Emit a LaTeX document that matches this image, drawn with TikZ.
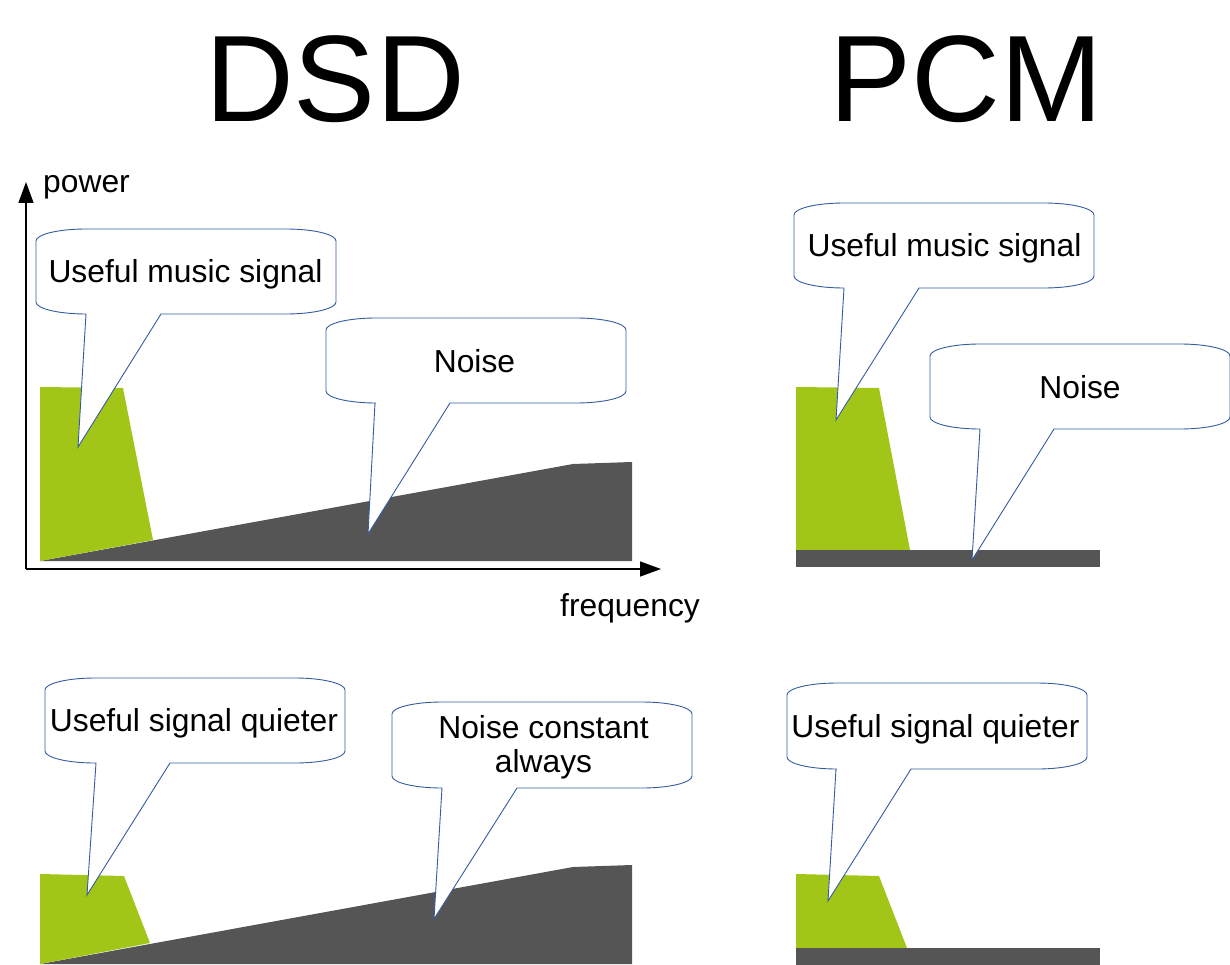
\documentclass[tikz,border=0pt]{standalone}
\usepackage{fontspec}
\setmainfont{Liberation Sans}
\usetikzlibrary{arrows.meta}
\definecolor{sigGreen}{RGB}{161,198,24}
\definecolor{noiseGray}{RGB}{85,85,85}
\definecolor{bubbleBlue}{RGB}{52,92,160}
% #1 L, #2 T, #3 R, #4 B, #5 tail base left, #6 tail base right, #7 tip x, #8 tip y
\newcommand\bubblepath[8]{%
  \filldraw[bubble]
    (#1,#2+12) .. controls (#1,#2+5.4) and (#1+22.4,#2) .. (#1+50,#2)
    -- (#3-50,#2) .. controls (#3-22.4,#2) and (#3,#2+5.4) .. (#3,#2+12)
    -- (#3,#4-12) .. controls (#3,#4-5.4) and (#3-22.4,#4) .. (#3-50,#4)
    -- (#6,#4) -- (#7,#8) -- (#5,#4)
    -- (#1+50,#4) .. controls (#1+22.4,#4) and (#1,#4-5.4) .. (#1,#4-12)
    -- cycle;}
\begin{document}
\begin{tikzpicture}[x=1pt,y=-1pt,
  bubble/.style={fill=white,draw=bubbleBlue,line width=0.9pt,line join=miter},
  lbl/.style={anchor=base,inner sep=0pt,font=\fontsize{31.8}{34}\selectfont},
  title/.style={anchor=base,inner sep=0pt,font=\fontsize{123}{130}\selectfont},
  axis/.style={line width=1.5pt,-{Triangle[length=21pt,width=15pt]}},
  green/.style={fill=sigGreen},
  gray/.style={fill=noiseGray}]
\useasboundingbox (0,0) rectangle (1230,965);

% titles
\node[title] (tDSD) at (335,122) {DSD};
\node[title] (tPCM) at (966,122) {PCM};

% ---------- DSD top ----------
\fill[gray] (40,561) -- (573,464) -- (632,462) -- (632,561) -- cycle;
\fill[green] (40,387) -- (123,388) -- (153,540) -- (40,561) -- cycle;
\coordinate (origin) at (26,569);
\coordinate (ytip) at (26,182);
\coordinate (xtip) at (661,569);
\draw[axis] (origin) -- (ytip);
\draw[axis] (origin) -- (xtip);
\node[lbl] (power) at (86.5,193) {power};
\node[lbl] (freq) at (630,616) {frequency};

\bubblepath{36}{229}{336}{314}{86}{161}{78}{447}
\node[lbl] (b1) at (185.5,283) {Useful music signal};
\bubblepath{326}{318}{626}{403}{375}{450}{368}{534}
\node[lbl] (b2) at (474.5,372) {Noise};

% ---------- PCM top ----------
\fill[green] (796,387) -- (879,388) -- (910,550) -- (796,550) -- cycle;
\fill[gray] (796,550) rectangle (1100,567);
\bubblepath{794}{203}{1094}{288}{844}{919}{836}{420}
\node[lbl] (b3) at (944.5,257) {Useful music signal};
\bubblepath{930}{344}{1230}{429}{980}{1054}{972}{560}
\node[lbl] (b4) at (1080,398) {Noise};

% ---------- DSD bottom ----------
\fill[gray] (40,964) -- (573,867) -- (632,865) -- (632,964) -- cycle;
\fill[green] (40,874) -- (124,876) -- (150,943) -- (40,964) -- cycle;
\bubblepath{45}{678}{345}{763}{96}{170}{87}{895}
\node[lbl] (b5) at (194,731) {Useful signal quieter};
\bubblepath{392}{702}{692}{788}{442}{517}{434}{919}
\node[lbl] (b6a) at (543.5,738) {Noise constant};
\node[lbl] (b6b) at (543.5,772) {always};

% ---------- PCM bottom ----------
\fill[green] (796,874) -- (879,876) -- (907,948) -- (796,948) -- cycle;
\fill[gray] (796,948) rectangle (1100,965);
\bubblepath{787}{683}{1087}{769}{836}{911}{828}{901}
\node[lbl] (b7) at (935.5,737) {Useful signal quieter};
\end{tikzpicture}
\end{document}
